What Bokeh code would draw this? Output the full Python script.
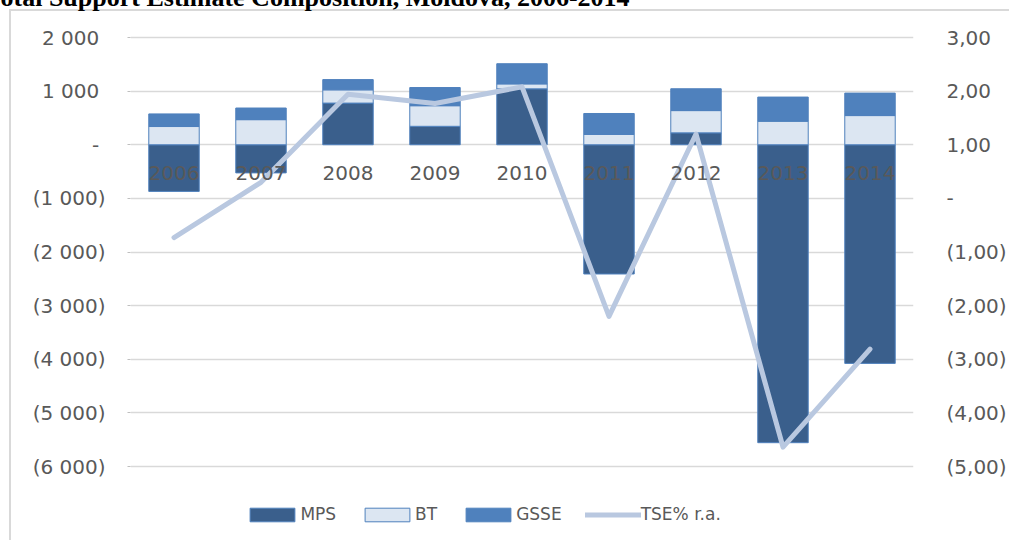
from bokeh.plotting import figure
from bokeh.models import (ColumnDataSource, FactorRange, Range1d, LinearAxis, FixedTicker,
                          Legend, LegendItem, Title)
from bokeh.core.properties import value
from bokeh.embed import file_html
from bokeh.resources import INLINE

# ---- data ----
years = ["2006", "2007", "2008", "2009", "2010", "2011", "2012", "2013", "2014"]
mps = [-870, -525, 777, 344, 1043, -2410, 222, -5556, -4077]
bt = [340, 468, 247, 384, 92, 193, 415, 439, 544]
gsse = [235, 217, 191, 339, 376, 390, 407, 450, 419]
tse_pct = [-0.73, 0.30, 1.94, 1.77, 2.08, -2.20, 1.20, -4.64, -2.81]
left_ticks = [2000, 1000, 0, -1000, -2000, -3000, -4000, -5000, -6000]
right_ticks = [3, 2, 1, 0, -1, -2, -3, -4, -5]
title_text = "otal Support Estimate Composition, Moldova, 2006-2014"
series_names = ["MPS", "BT", "GSSE", "TSE% r.a."]

# ---- stacking (positives and negatives stacked separately) ----
pos_base = [max(m, 0) for m in mps]
src = ColumnDataSource(dict(
    year=years,
    mps_bottom=[min(m, 0) for m in mps],
    mps_top=pos_base,
    bt_bottom=pos_base,
    bt_top=[b + v for b, v in zip(pos_base, bt)],
    gsse_bottom=[b + v for b, v in zip(pos_base, bt)],
    gsse_top=[b + v + g for b, v, g in zip(pos_base, bt, gsse)],
    tse=tse_pct,
))


def fmt_left(v):
    if v == 0:
        return "-\u00a0"
    s = f"{abs(v):,}".replace(",", " ")
    return f"({s})" if v < 0 else s + "\u00a0"


def fmt_right(v):
    if v == 0:
        return "-"
    s = f"{abs(v):.2f}".replace(".", ",")
    return f"({s})" if v < 0 else s


FONT = "DejaVu Sans"
GREY = "#595959"
BORDER = "#d9d9d9"

# ---- layout geometry (pixels) ----
PAGE_W, PAGE_H = 1009, 540
LIFT = 30                       # canvas starts above the page so the cut heading can sit there
FRAME_L, FRAME_R = 130, 918
FRAME_T, FRAME_B = 11, 540      # plot frame spans down to the page bottom (legend inside)
Y_TOP_PX, Y_BOT_PX = 37, 466    # pixel rows of the first and last gridline
px_per_unit = (Y_BOT_PX - Y_TOP_PX) / (left_ticks[0] - left_ticks[-1])
y_end = left_ticks[0] + (Y_TOP_PX - FRAME_T) / px_per_unit
y_start = left_ticks[-1] - (FRAME_B - Y_BOT_PX) / px_per_unit
# right axis: r.a. value r sits at left value (r - 1) * 1000
r_of = lambda v: v / 1000 + 1

bg = (f"linear-gradient({BORDER},{BORDER}) 9px {LIFT + 10}px / 2px {PAGE_H}px no-repeat, "
      f"linear-gradient({BORDER},{BORDER}) 9px {LIFT + 9}px / {PAGE_W}px 2px no-repeat, #ffffff")

p = figure(width=PAGE_W, height=PAGE_H + LIFT, x_range=FactorRange(*years),
           y_range=Range1d(y_start, y_end),
           output_backend="svg", toolbar_location=None,
           min_border_left=FRAME_L, min_border_right=PAGE_W - FRAME_R,
           min_border_top=FRAME_T + LIFT, min_border_bottom=0,
           outline_line_color=None, background_fill_alpha=0, border_fill_alpha=0,
           styles={"margin-top": f"-{LIFT}px", "background": bg})

p.xaxis.visible = False
p.xgrid.visible = False
p.ygrid.grid_line_color = BORDER
p.ygrid.grid_line_width = 1.5

ya = p.yaxis[0]
ya.ticker = FixedTicker(ticks=left_ticks)
ya.major_label_overrides = {t: fmt_left(t) for t in left_ticks}
ya.axis_line_color = None
ya.major_tick_line_color = "#bfbfbf"
ya.major_tick_out = 3
ya.major_tick_in = 0
ya.minor_tick_line_color = None
ya.major_label_standoff = 22
ya.major_label_text_font = FONT
ya.major_label_text_font_size = "20px"
ya.major_label_text_color = GREY

p.extra_y_ranges = {"pct": Range1d(r_of(y_start), r_of(y_end))}
ra = LinearAxis(y_range_name="pct", ticker=FixedTicker(ticks=right_ticks))
ra.major_label_overrides = {t: fmt_right(t) for t in right_ticks}
ra.axis_line_color = None
ra.major_tick_line_color = None
ra.minor_tick_line_color = None
ra.major_label_standoff = 27
ra.major_label_text_font = FONT
ra.major_label_text_font_size = "20px"
ra.major_label_text_color = GREY
p.add_layout(ra, "right")

W = 0.58
OUT = "#4f81bd"
r_mps = p.vbar(x="year", bottom="mps_bottom", top="mps_top", width=W, source=src,
               fill_color="#3a5f8c", line_color=OUT, line_width=1)
r_bt = p.vbar(x="year", bottom="bt_bottom", top="bt_top", width=W, source=src,
              fill_color="#dce6f2", line_color=OUT, line_width=1)
r_gsse = p.vbar(x="year", bottom="gsse_bottom", top="gsse_top", width=W, source=src,
                fill_color="#4f81bd", line_color=OUT, line_width=1)
r_line = p.line(x="year", y="tse", y_range_name="pct", source=src,
                line_color="#b9c8e0", line_width=5, line_join="round", line_cap="round")

# category labels sit next to the zero line
p.text(x="year", y=0, text="year", source=src, text_align="center", text_baseline="middle",
       y_offset=28, text_font=value(FONT), text_font_size="20px", text_color=GREY)

GW = 56   # legend glyph slot; bar swatches are drawn 10% inset on each side
legend = Legend(items=[LegendItem(label=series_names[0], renderers=[r_mps]),
                       LegendItem(label=series_names[1], renderers=[r_bt]),
                       LegendItem(label=series_names[2], renderers=[r_gsse]),
                       LegendItem(label=series_names[3], renderers=[r_line])],
                orientation="horizontal", location=(250 - 0.1 * GW - FRAME_L, FRAME_B - 524),
                glyph_width=GW, glyph_height=17, label_standoff=0, spacing=23,
                padding=0, margin=0, border_line_color=None, background_fill_alpha=0,
                label_text_font=FONT, label_text_font_size="17px", label_text_color=GREY)
p.add_layout(legend, "center")

# document heading above the chart (cut off at the top, as in the reference)
p.add_layout(Title(text=title_text, align="left", offset=-FRAME_L, standoff=0,
                   vertical_align="bottom", text_font="Liberation Serif",
                   text_font_style="bold", text_font_size="26px", text_color="black"), "above")

open("out.html", "w").write(file_html(p, INLINE))
